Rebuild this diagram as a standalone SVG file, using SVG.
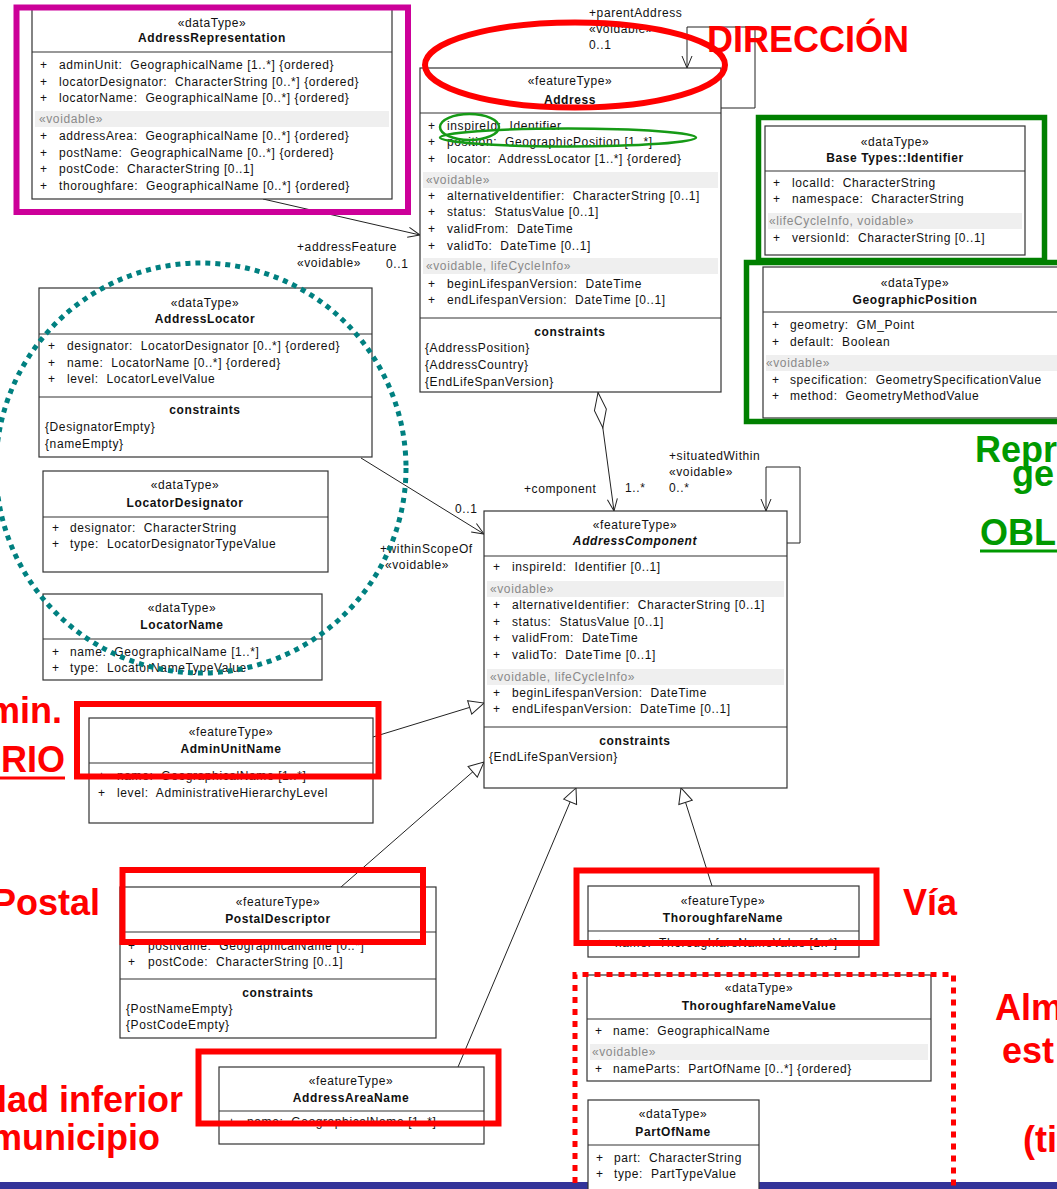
<svg xmlns="http://www.w3.org/2000/svg" width="1057" height="1189" viewBox="0 0 1057 1189">
<style>
.t{font-family:"Liberation Sans",Arial,sans-serif;font-size:12px;letter-spacing:.6px;fill:#111;white-space:pre}
.c{text-anchor:middle}
.bd{font-weight:bold}
.gy{fill:#8a8a8a}
.bx{fill:#fff;stroke:#333;stroke-width:1.2}
.sp{stroke:#333;stroke-width:1.2}
.band{fill:#efefef}
.ln{fill:none;stroke:#222;stroke-width:1}
.big{font-family:"Liberation Sans",Arial,sans-serif;font-weight:bold;font-size:36px;fill:#f00}
.gr{font-family:"Liberation Sans",Arial,sans-serif;font-weight:bold;font-size:36px;fill:#009900}
.hr{fill:none;stroke:#f00;stroke-width:6}
.hg{fill:none;stroke:#008000;stroke-width:5.5}
.he{fill:none;stroke:#169a16;stroke-width:2.5}
</style>
<defs>
<marker id="open" viewBox="0 0 14 12" refX="13" refY="6" markerWidth="14" markerHeight="12" orient="auto" markerUnits="userSpaceOnUse"><path d="M1,1 L13,6 L1,11" fill="none" stroke="#222" stroke-width="1"/></marker>
<marker id="tri" viewBox="0 0 17 16" refX="16" refY="8" markerWidth="17" markerHeight="16" orient="auto" markerUnits="userSpaceOnUse"><path d="M1,1 L16,8 L1,15 Z" fill="#fff" stroke="#222" stroke-width="1"/></marker>
<marker id="dia" viewBox="0 0 38 14" refX="0" refY="7" markerWidth="38" markerHeight="14" orient="auto" markerUnits="userSpaceOnUse"><path d="M0.5,7 L18,1 L36,7 L18,13 Z" fill="#fff" stroke="#222" stroke-width="1"/></marker>
</defs>
<rect x="0" y="0" width="1057" height="1189" fill="#fff"/>
<rect x="0" y="1182" width="1057" height="7" fill="#333399"/>

<g id="connectors">
<path class="ln" d="M263,199 L420,235" marker-end="url(#open)"/>
<path class="ln" d="M721,108 L755,108 L755,27 L687,27 L687,68" marker-end="url(#open)"/>
<path class="ln" d="M598,392 L614,511" marker-start="url(#dia)" marker-end="url(#open)"/>
<path class="ln" d="M787,543 L800,543 L800,467 L766,467 L766,511" marker-end="url(#open)"/>
<path class="ln" d="M361,458 L484,534" marker-end="url(#open)"/>
<path class="ln" d="M373,737 L484,703" marker-end="url(#tri)"/>
<path class="ln" d="M341,887 L484,762" marker-end="url(#tri)"/>
<path class="ln" d="M458,1067 L576,788" marker-end="url(#tri)"/>
<path class="ln" d="M712,886 L681,788" marker-end="url(#tri)"/>
<text class="t" x="589" y="17">+parentAddress</text>
<text class="t" x="589" y="33">«voidable»</text>
<text class="t" x="589" y="49">0..1</text>
<text class="t" x="297" y="251">+addressFeature</text>
<text class="t" x="297" y="267">«voidable»</text>
<text class="t" x="386" y="268">0..1</text>
<text class="t" x="524" y="493">+component</text>
<text class="t" x="625" y="492">1..*</text>
<text class="t" x="669" y="492">0..*</text>
<text class="t" x="669" y="460">+situatedWithin</text>
<text class="t" x="669" y="476">«voidable»</text>
<text class="t" x="455" y="513">0..1</text>
<text class="t" x="380" y="553">+withinScopeOf</text>
<text class="t" x="385" y="569">«voidable»</text>
</g>

<g id="AddressRepresentation">
<rect class="bx" x="32" y="8" width="360" height="191"/>
<line class="sp" x1="32" y1="52" x2="392" y2="52"/>
<rect class="band" x="35" y="111" width="354" height="16"/>
<text class="t c" x="212" y="27">«dataType»</text>
<text class="t c bd" x="212" y="42">AddressRepresentation</text>
<text class="t" x="40" y="69">+</text><text class="t" x="59" y="69">adminUnit:  GeographicalName [1..*] {ordered}</text>
<text class="t" x="40" y="86">+</text><text class="t" x="59" y="86">locatorDesignator:  CharacterString [0..*] {ordered}</text>
<text class="t" x="40" y="102">+</text><text class="t" x="59" y="102">locatorName:  GeographicalName [0..*] {ordered}</text>
<text class="t gy" x="39" y="123">«voidable»</text>
<text class="t" x="40" y="140">+</text><text class="t" x="59" y="140">addressArea:  GeographicalName [0..*] {ordered}</text>
<text class="t" x="40" y="157">+</text><text class="t" x="59" y="157">postName:  GeographicalName [0..*] {ordered}</text>
<text class="t" x="40" y="173">+</text><text class="t" x="59" y="173">postCode:  CharacterString [0..1]</text>
<text class="t" x="40" y="190">+</text><text class="t" x="59" y="190">thoroughfare:  GeographicalName [0..*] {ordered}</text>
</g>

<g id="Address">
<rect class="bx" x="420" y="68" width="301" height="324"/>
<line class="sp" x1="420" y1="113" x2="721" y2="113"/>
<line class="sp" x1="420" y1="318" x2="721" y2="318"/>
<rect class="band" x="423" y="172" width="295" height="16"/>
<rect class="band" x="423" y="258" width="295" height="16"/>
<text class="t c" x="570" y="85">«featureType»</text>
<text class="t c bd" x="570" y="104">Address</text>
<text class="t" x="428" y="130">+</text><text class="t" x="447" y="130">inspireId:  Identifier</text>
<text class="t" x="428" y="146">+</text><text class="t" x="447" y="146">position:  GeographicPosition [1..*]</text>
<text class="t" x="428" y="163">+</text><text class="t" x="447" y="163">locator:  AddressLocator [1..*] {ordered}</text>
<text class="t gy" x="426" y="184">«voidable»</text>
<text class="t" x="428" y="200">+</text><text class="t" x="447" y="200">alternativeIdentifier:  CharacterString [0..1]</text>
<text class="t" x="428" y="216">+</text><text class="t" x="447" y="216">status:  StatusValue [0..1]</text>
<text class="t" x="428" y="233">+</text><text class="t" x="447" y="233">validFrom:  DateTime</text>
<text class="t" x="428" y="250">+</text><text class="t" x="447" y="250">validTo:  DateTime [0..1]</text>
<text class="t gy" x="426" y="270">«voidable, lifeCycleInfo»</text>
<text class="t" x="428" y="288">+</text><text class="t" x="447" y="288">beginLifespanVersion:  DateTime</text>
<text class="t" x="428" y="304">+</text><text class="t" x="447" y="304">endLifespanVersion:  DateTime [0..1]</text>
<text class="t c bd" x="570" y="336">constraints</text>
<text class="t" x="425" y="352">{AddressPosition}</text>
<text class="t" x="425" y="369">{AddressCountry}</text>
<text class="t" x="425" y="386">{EndLifeSpanVersion}</text>
</g>

<g id="Identifier">
<rect class="bx" x="765" y="126" width="260" height="129"/>
<line class="sp" x1="765" y1="171" x2="1025" y2="171"/>
<rect class="band" x="768" y="213" width="254" height="16"/>
<text class="t c" x="895" y="146">«dataType»</text>
<text class="t c bd" x="895" y="162">Base Types::Identifier</text>
<text class="t" x="773" y="187">+</text><text class="t" x="792" y="187">localId:  CharacterString</text>
<text class="t" x="773" y="203">+</text><text class="t" x="792" y="203">namespace:  CharacterString</text>
<text class="t gy" x="769" y="225">«lifeCycleInfo, voidable»</text>
<text class="t" x="773" y="242">+</text><text class="t" x="792" y="242">versionId:  CharacterString [0..1]</text>
</g>

<g id="GeographicPosition">
<rect class="bx" x="763" y="267" width="304" height="151"/>
<line class="sp" x1="763" y1="312" x2="1067" y2="312"/>
<rect class="band" x="766" y="355" width="298" height="16"/>
<text class="t c" x="915" y="287">«dataType»</text>
<text class="t c bd" x="915" y="304">GeographicPosition</text>
<text class="t" x="772" y="329">+</text><text class="t" x="790" y="329">geometry:  GM_Point</text>
<text class="t" x="772" y="346">+</text><text class="t" x="790" y="346">default:  Boolean</text>
<text class="t gy" x="766" y="367">«voidable»</text>
<text class="t" x="772" y="384">+</text><text class="t" x="790" y="384">specification:  GeometrySpecificationValue</text>
<text class="t" x="772" y="400">+</text><text class="t" x="790" y="400">method:  GeometryMethodValue</text>
</g>

<g id="AddressLocator">
<rect class="bx" x="39" y="288" width="333" height="169"/>
<line class="sp" x1="39" y1="334" x2="372" y2="334"/>
<line class="sp" x1="39" y1="397" x2="372" y2="397"/>
<text class="t c" x="205" y="307">«dataType»</text>
<text class="t c bd" x="205" y="323">AddressLocator</text>
<text class="t" x="48" y="350">+</text><text class="t" x="67" y="350">designator:  LocatorDesignator [0..*] {ordered}</text>
<text class="t" x="48" y="367">+</text><text class="t" x="67" y="367">name:  LocatorName [0..*] {ordered}</text>
<text class="t" x="48" y="383">+</text><text class="t" x="67" y="383">level:  LocatorLevelValue</text>
<text class="t c bd" x="205" y="414">constraints</text>
<text class="t" x="45" y="431">{DesignatorEmpty}</text>
<text class="t" x="45" y="448">{nameEmpty}</text>
</g>

<g id="LocatorDesignator">
<rect class="bx" x="43" y="471" width="285" height="101"/>
<line class="sp" x1="43" y1="517" x2="328" y2="517"/>
<text class="t c" x="185" y="489">«dataType»</text>
<text class="t c bd" x="185" y="507">LocatorDesignator</text>
<text class="t" x="52" y="532">+</text><text class="t" x="70" y="532">designator:  CharacterString</text>
<text class="t" x="52" y="548">+</text><text class="t" x="70" y="548">type:  LocatorDesignatorTypeValue</text>
</g>

<g id="LocatorName">
<rect class="bx" x="43" y="594" width="279" height="86"/>
<line class="sp" x1="43" y1="639" x2="322" y2="639"/>
<text class="t c" x="182" y="612">«dataType»</text>
<text class="t c bd" x="182" y="629">LocatorName</text>
<text class="t" x="52" y="656">+</text><text class="t" x="70" y="656">name:  GeographicalName [1..*]</text>
<text class="t" x="52" y="672">+</text><text class="t" x="70" y="672">type:  LocatorNameTypeValue</text>
</g>

<g id="AddressComponent">
<rect class="bx" x="484" y="511" width="303" height="277"/>
<line class="sp" x1="484" y1="556" x2="787" y2="556"/>
<line class="sp" x1="484" y1="727" x2="787" y2="727"/>
<rect class="band" x="487" y="581" width="297" height="16"/>
<rect class="band" x="487" y="669" width="297" height="16"/>
<text class="t c" x="635" y="529">«featureType»</text>
<text class="t c bd" x="635" y="545" font-style="italic">AddressComponent</text>
<text class="t" x="493" y="571">+</text><text class="t" x="512" y="571">inspireId:  Identifier [0..1]</text>
<text class="t gy" x="490" y="593">«voidable»</text>
<text class="t" x="493" y="609">+</text><text class="t" x="512" y="609">alternativeIdentifier:  CharacterString [0..1]</text>
<text class="t" x="493" y="626">+</text><text class="t" x="512" y="626">status:  StatusValue [0..1]</text>
<text class="t" x="493" y="642">+</text><text class="t" x="512" y="642">validFrom:  DateTime</text>
<text class="t" x="493" y="659">+</text><text class="t" x="512" y="659">validTo:  DateTime [0..1]</text>
<text class="t gy" x="490" y="681">«voidable, lifeCycleInfo»</text>
<text class="t" x="493" y="697">+</text><text class="t" x="512" y="697">beginLifespanVersion:  DateTime</text>
<text class="t" x="493" y="713">+</text><text class="t" x="512" y="713">endLifespanVersion:  DateTime [0..1]</text>
<text class="t c bd" x="635" y="745">constraints</text>
<text class="t" x="489" y="761">{EndLifeSpanVersion}</text>
</g>

<g id="AdminUnitName">
<rect class="bx" x="89" y="718" width="284" height="105"/>
<line class="sp" x1="89" y1="763" x2="373" y2="763"/>
<text class="t c" x="231" y="736">«featureType»</text>
<text class="t c bd" x="231" y="753">AdminUnitName</text>
<text class="t" x="98" y="780">+</text><text class="t" x="117" y="780">name:  GeographicalName [1..*]</text>
<text class="t" x="98" y="797">+</text><text class="t" x="117" y="797">level:  AdministrativeHierarchyLevel</text>
</g>

<g id="PostalDescriptor">
<rect class="bx" x="120" y="887" width="316" height="151"/>
<line class="sp" x1="120" y1="932" x2="436" y2="932"/>
<line class="sp" x1="120" y1="979" x2="436" y2="979"/>
<text class="t c" x="278" y="906">«featureType»</text>
<text class="t c bd" x="278" y="923">PostalDescriptor</text>
<text class="t" x="128" y="950">+</text><text class="t" x="148" y="950">postName:  GeographicalName [0..*]</text>
<text class="t" x="128" y="966">+</text><text class="t" x="148" y="966">postCode:  CharacterString [0..1]</text>
<text class="t c bd" x="278" y="997">constraints</text>
<text class="t" x="126" y="1013">{PostNameEmpty}</text>
<text class="t" x="126" y="1029">{PostCodeEmpty}</text>
</g>

<g id="AddressAreaName">
<rect class="bx" x="219" y="1067" width="265" height="77"/>
<line class="sp" x1="219" y1="1111" x2="484" y2="1111"/>
<text class="t c" x="351" y="1085">«featureType»</text>
<text class="t c bd" x="351" y="1102">AddressAreaName</text>
<text class="t" x="228" y="1126">+</text><text class="t" x="247" y="1126">name:  GeographicalName [1..*]</text>
</g>

<g id="ThoroughfareName">
<rect class="bx" x="588" y="886" width="271" height="71"/>
<line class="sp" x1="588" y1="931" x2="859" y2="931"/>
<text class="t c" x="723" y="905">«featureType»</text>
<text class="t c bd" x="723" y="922">ThoroughfareName</text>
<text class="t" x="596" y="947">+</text><text class="t" x="615" y="947">name:  ThoroughfareNameValue [1..*]</text>
</g>

<g id="ThoroughfareNameValue">
<rect class="bx" x="587" y="975" width="344" height="106"/>
<line class="sp" x1="587" y1="1019" x2="931" y2="1019"/>
<rect class="band" x="590" y="1044" width="338" height="16"/>
<text class="t c" x="759" y="992">«dataType»</text>
<text class="t c bd" x="759" y="1010">ThoroughfareNameValue</text>
<text class="t" x="595" y="1035">+</text><text class="t" x="613" y="1035">name:  GeographicalName</text>
<text class="t gy" x="592" y="1056">«voidable»</text>
<text class="t" x="595" y="1073">+</text><text class="t" x="613" y="1073">nameParts:  PartOfName [0..*] {ordered}</text>
</g>

<g id="PartOfName">
<rect class="bx" x="588" y="1100" width="171" height="100"/>
<line class="sp" x1="588" y1="1145" x2="759" y2="1145"/>
<text class="t c" x="673" y="1118">«dataType»</text>
<text class="t c bd" x="673" y="1136">PartOfName</text>
<text class="t" x="596" y="1162">+</text><text class="t" x="614" y="1162">part:  CharacterString</text>
<text class="t" x="596" y="1178">+</text><text class="t" x="614" y="1178">type:  PartTypeValue</text>
</g>

<g id="highlights">
<rect x="16.5" y="7.5" width="391.5" height="204.5" fill="none" stroke="#cc0099" stroke-width="6"/>
<ellipse class="hr" cx="575" cy="65" rx="150" ry="42.5"/>
<ellipse class="he" cx="469.5" cy="127" rx="29.5" ry="13"/>
<ellipse class="he" cx="568" cy="137.5" rx="128" ry="9"/>
<rect class="hg" x="758.5" y="117.5" width="286" height="143"/>
<rect class="hg" x="746.5" y="262.5" width="330" height="159"/>
<circle cx="201" cy="468" r="205" fill="none" stroke="#008080" stroke-width="5" stroke-dasharray="5,5"/>
<rect class="hr" x="77" y="704" width="301.5" height="72.5"/>
<rect class="hr" x="122.5" y="870" width="300.5" height="72"/>
<rect class="hr" x="198.5" y="1051.5" width="300" height="72"/>
<rect class="hr" x="576.5" y="870.5" width="300" height="72.5"/>
<path d="M575,1195 L575,974.5 L953.5,974.5 L953.5,1195" fill="none" stroke="#f00" stroke-width="5" stroke-dasharray="6,6"/>
<text class="big" x="707" y="52" font-size="37.5">DIRECCIÓN</text>
<text class="big" x="62" y="723" text-anchor="end">min.</text>
<text class="big" x="65" y="772" text-anchor="end">RIO</text>
<line x1="0" y1="778" x2="65" y2="778" stroke="#f00" stroke-width="3"/>
<text class="big" x="100" y="915" text-anchor="end">Postal</text>
<text class="big" x="903" y="915">Vía</text>
<text class="big" x="183" y="1112" text-anchor="end">lad inferior</text>
<text class="big" x="160" y="1150" text-anchor="end">municipio</text>
<text class="big" x="995" y="1020">Alm</text>
<text class="big" x="1002" y="1063">est</text>
<text class="big" x="1023" y="1152">(ti</text>
<text class="gr" x="975" y="462">Repr</text>
<text class="gr" x="1012" y="486">ge</text>
<text class="gr" x="980" y="545">OBL</text>
<line x1="980" y1="551" x2="1057" y2="551" stroke="#009900" stroke-width="3"/>
</g>
</svg>
